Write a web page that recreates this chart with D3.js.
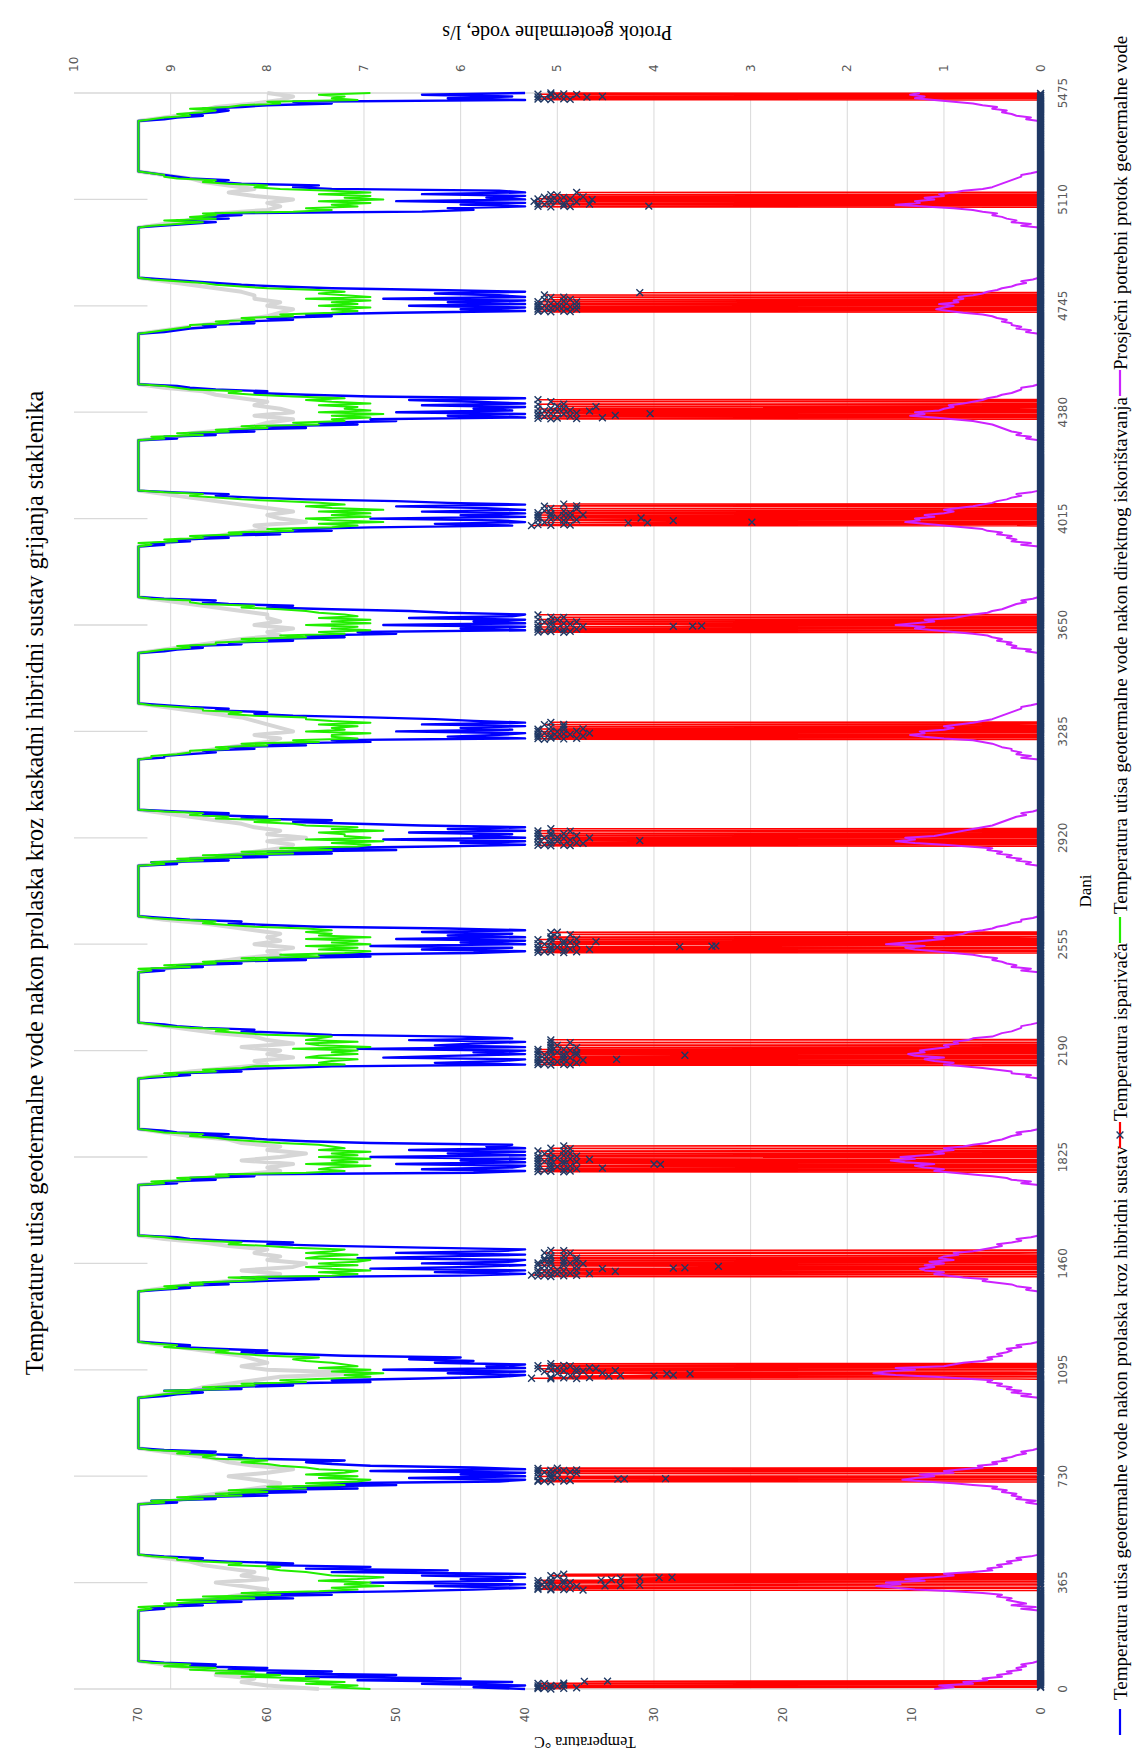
<!DOCTYPE html>
<html><head><meta charset="utf-8">
<script src="https://cdn.jsdelivr.net/npm/d3@7"></script>
<style>html,body{margin:0;padding:0;background:#fff;}svg{display:block}</style>
</head><body>
<svg id="c" width="1146" height="1758"></svg>
<script>
// ---------------- DATA ----------------
const dayTicks = [0,365,730,1095,1460,1825,2190,2555,2920,3285,3650,4015,4380,4745,5110,5475];
const tempTicks = [0,10,20,30,40,50,60,70];
const flowTicks = [0,1,2,3,4,5,6,7,8,9,10];
const winterCenters = dayTicks;  // heating seasons centred on each year boundary

// Blue: temperature after hybrid system, every 6 days (offsets -96..96; first season 0..96, last -96..0)
const blueWinters = [
 [40,44,40,48,41,53,45,57,50,60,55,63,60,66,64,68,70],
 [70,68,69,65,67,62,66,58,63,55,60,50,44,40,47,40,52,41,45,40,48,40,55,46,57,52,60,58,63,66,65,68,70],
 [70,67,69,64,66,60,63,57,62,53,58,50,55,42,40,49,40,45,40,52,40,44,52,55,57,54,61,63,62,66,64,68,70],
 [70,68,67,65,68,62,64,58,61,52,55,48,42,40,46,40,51,40,43,40,47,44,49,45,54,58,62,60,64,67,66,68,70],
 [70,68,66,67,63,65,60,56,62,45,40,47,40,52,44,40,48,41,40,53,46,40,50,42,40,48,55,60,58,63,66,67,70],
 [70,67,68,64,66,61,63,44,40,48,41,40,50,40,45,40,52,40,46,40,49,40,43,41,52,57,60,62,65,63,67,68,70],
 [70,68,66,67,62,64,59,55,40,47,42,40,51,46,40,44,40,53,40,47,44,40,49,41,45,55,58,62,61,65,67,68,70],
 [70,68,69,65,67,62,64,57,60,52,56,44,40,48,41,52,40,45,40,50,40,46,41,48,40,46,56,60,63,62,66,68,70],
 [70,67,69,63,66,60,64,55,60,50,57,47,40,45,40,51,40,44,41,49,40,46,40,48,53,58,55,62,60,65,63,67,70],
 [70,68,68,66,64,65,61,63,57,60,52,55,40,46,42,40,50,41,45,40,48,40,44,47,52,58,61,60,64,63,66,68,70],
 [70,68,67,65,66,62,63,58,60,54,57,50,53,40,45,40,51,40,44,40,49,41,40,46,49,55,60,58,63,65,64,68,70],
 [70,68,69,66,67,63,65,59,62,55,58,52,41,47,40,42,52,40,45,40,48,40,43,50,40,46,50,57,61,64,63,67,70],
 [70,67,68,64,66,61,63,57,60,53,56,50,52,40,46,40,50,41,44,40,48,40,44,49,40,52,57,61,60,64,66,67,70],
 [70,68,67,66,64,65,61,62,58,60,55,57,50,40,45,40,49,40,46,40,51,40,42,47,40,47,55,59,62,64,66,68,70],
 [70,68,66,64,67,63,65,62,64,48,44,46,40,45,40,50,40,43,40,48,40,42,55,58,56,62,64,63,66,67,68,69,70],
 [70,68,67,65,66,64,63,65,62,60,55,58,40,46,41,48,40]
];
// Green: temperature after direct use, every 6 days
const greenWinters = [
 [52,55,53,57,54,59,56,62,59,64,61,66,64,68,66,69,70],
 [70,69,70,67,68,64,67,61,65,59,62,56,53,55,51,54,52,56,53,51,55,56,57,59,60,59,63,62,65,67,67,69,70],
 [70,68,69,65,67,62,64,60,63,57,60,54,57,53,52,56,53,57,54,53,56,57,59,60,62,60,64,65,64,67,66,69,70],
 [70,69,68,66,68,63,65,61,62,57,59,55,52,54,51,55,52,56,53,54,55,57,58,56,60,62,64,63,66,68,67,69,70],
 [70,69,67,68,65,66,62,60,63,55,53,56,52,55,57,53,56,53,52,57,56,53,57,55,54,58,60,63,62,65,67,68,70],
 [70,68,69,66,67,63,64,57,54,56,55,52,57,53,55,52,56,53,55,52,56,54,55,56,59,61,63,64,66,65,68,69,70],
 [70,69,67,68,64,65,62,61,54,56,55,53,57,56,53,55,53,58,52,56,57,53,57,56,55,60,62,64,63,66,68,69,70],
 [70,69,70,66,68,64,65,60,62,56,59,54,52,56,53,57,52,55,53,57,52,56,55,57,55,57,61,63,65,64,67,69,70],
 [70,68,69,65,67,62,65,58,62,55,59,53,52,55,51,57,52,54,54,56,51,55,53,57,58,61,59,64,63,66,65,68,70],
 [70,69,69,67,66,66,63,64,60,62,56,58,53,55,55,52,57,54,55,53,56,52,55,57,57,61,63,62,65,65,67,69,70],
 [70,69,68,66,67,64,64,60,62,57,59,54,56,52,55,53,57,52,55,52,56,53,54,56,57,59,62,61,65,66,66,69,70],
 [70,69,70,67,68,65,66,62,63,58,60,55,53,56,51,55,57,52,55,52,56,51,55,57,54,56,59,62,64,66,65,68,70],
 [70,68,69,65,67,63,64,60,62,56,58,54,55,52,55,51,56,52,54,53,56,52,55,57,54,58,61,63,62,66,67,68,70],
 [70,69,68,67,66,66,63,64,61,62,58,59,55,53,55,52,56,53,55,52,57,52,54,56,54,56,60,62,64,65,67,69,70],
 [70,69,67,65,68,64,66,64,65,58,55,57,53,55,52,56,51,54,52,56,52,55,59,61,60,63,65,64,67,68,68,69,70],
 [70,69,68,66,67,65,64,66,63,62,59,60,53,55,54,56,52]
];
// Grey (unlabelled) series, every 12 days
const grayWinters = [
 [56,60,62,61,64,63,66,68,70],
 [70,68,66,64,63,61,60,62,64,60,62,61,63,65,66,68,70],
 [70,67,66,64,62,60,59,61,63,60,58,61,63,64,66,68,70],
 [70,68,66,65,63,61,59,52,60,62,60,61,62,64,66,68,70],
 [70,68,66,63,61,59,62,58,57,60,59,61,60,63,65,68,70],
 [70,67,65,62,59,60,58,62,59,57,60,59,62,63,66,68,70],
 [70,68,66,63,60,61,58,60,59,62,58,60,61,64,66,68,70],
 [70,68,66,64,62,59,60,58,61,59,60,59,61,63,65,68,70],
 [70,67,66,63,61,59,58,60,57,60,59,61,62,64,66,68,70],
 [70,68,66,64,62,60,59,61,58,59,60,61,62,64,66,68,70],
 [70,68,66,64,62,59,60,58,61,59,60,60,62,64,66,68,70],
 [70,68,66,64,62,60,61,57,59,60,58,60,62,64,66,68,70],
 [70,67,66,63,61,60,58,61,58,59,61,60,62,64,65,68,70],
 [70,68,66,64,62,60,59,58,60,59,61,61,62,64,66,68,70],
 [70,68,66,65,64,60,59,60,58,61,63,61,63,65,66,68,70],
 [70,68,66,65,64,61,59,58,60]
];
// Magenta: average required geothermal flow (l/s), every 6 days
const flowWinters = [
 [1.1,0.9,1.05,0.7,0.8,0.55,0.6,0.4,0.45,0.3,0.35,0.2,0.25,0.15,0.2,0.08,0.02],
 [0.02,0.2,0.05,0.3,0.15,0.25,0.35,0.3,0.45,0.4,0.6,0.9,1.3,1.5,1.7,1.45,1.6,1.2,1.4,1.1,0.9,1.0,0.7,0.5,0.55,0.4,0.45,0.3,0.35,0.2,0.25,0.1,0.02],
 [0.02,0.15,0.05,0.25,0.2,0.3,0.25,0.4,0.35,0.5,0.45,0.7,0.9,1.2,1.43,1.3,1.1,1.25,0.9,1.0,0.8,0.6,0.65,0.45,0.5,0.35,0.4,0.3,0.25,0.15,0.2,0.08,0.02],
 [0.02,0.2,0.1,0.3,0.2,0.35,0.3,0.45,0.4,0.55,0.5,0.8,1.1,1.5,1.73,1.6,1.3,1.5,1.0,0.9,0.8,0.6,0.5,0.55,0.4,0.45,0.35,0.3,0.35,0.2,0.25,0.1,0.02],
 [0.02,0.15,0.1,0.25,0.3,0.45,0.6,0.55,0.8,0.95,1.1,1.0,1.2,1.25,1.1,1.2,1.0,1.15,0.9,1.05,1.0,0.85,0.9,0.7,0.6,0.5,0.4,0.45,0.3,0.2,0.25,0.1,0.02],
 [0.02,0.2,0.1,0.3,0.35,0.5,0.7,0.9,1.1,1.0,1.2,1.3,1.1,1.4,1.55,1.3,1.45,1.2,1.0,1.1,0.9,1.0,0.8,0.7,0.55,0.5,0.4,0.35,0.3,0.2,0.25,0.1,0.02],
 [0.02,0.15,0.1,0.3,0.3,0.45,0.6,0.8,1.0,0.9,1.1,1.2,1.0,1.3,1.37,1.2,1.25,1.1,0.95,1.0,0.85,0.9,0.75,0.7,0.5,0.45,0.4,0.3,0.25,0.2,0.2,0.1,0.02],
 [0.02,0.2,0.1,0.3,0.25,0.35,0.4,0.5,0.45,0.6,0.7,0.9,1.1,1.3,1.4,1.2,1.6,1.4,1.2,1.0,1.1,0.9,0.8,0.75,0.6,0.5,0.45,0.35,0.3,0.2,0.2,0.08,0.02],
 [0.02,0.15,0.1,0.25,0.2,0.35,0.3,0.45,0.4,0.55,0.5,0.75,1.0,1.3,1.5,1.3,1.4,1.1,1.0,0.9,0.8,0.7,0.6,0.5,0.45,0.4,0.35,0.3,0.25,0.15,0.2,0.08,0.02],
 [0.02,0.2,0.1,0.25,0.2,0.3,0.3,0.4,0.45,0.5,0.6,0.7,1.0,1.2,1.35,1.2,1.25,1.0,0.9,1.0,0.85,0.7,0.6,0.5,0.45,0.4,0.35,0.3,0.25,0.2,0.2,0.1,0.02],
 [0.02,0.15,0.1,0.3,0.25,0.35,0.3,0.45,0.4,0.5,0.55,0.7,0.9,1.1,1.3,1.2,1.5,1.3,1.1,1.2,0.9,0.8,0.7,0.55,0.5,0.4,0.35,0.3,0.25,0.15,0.2,0.08,0.02],
 [0.02,0.2,0.1,0.3,0.25,0.35,0.3,0.45,0.4,0.55,0.6,0.8,1.0,1.2,1.4,1.25,1.3,1.1,1.2,1.0,0.9,1.0,0.85,0.7,0.6,0.5,0.45,0.35,0.3,0.2,0.25,0.1,0.02],
 [0.02,0.15,0.1,0.25,0.2,0.3,0.35,0.4,0.45,0.5,0.6,0.7,0.9,1.1,1.35,1.2,1.3,1.05,1.0,0.9,0.95,0.8,0.7,0.6,0.55,0.45,0.4,0.3,0.25,0.2,0.2,0.08,0.02],
 [0.02,0.15,0.1,0.25,0.2,0.3,0.3,0.4,0.35,0.45,0.5,0.6,0.8,0.95,1.08,1.0,0.9,1.05,0.85,0.9,0.8,0.85,0.7,0.6,0.55,0.45,0.4,0.3,0.25,0.15,0.2,0.08,0.02],
 [0.02,0.2,0.1,0.3,0.25,0.35,0.4,0.5,0.45,0.6,0.7,0.9,1.2,1.5,1.25,1.3,1.1,1.2,1.0,1.05,0.9,0.8,0.6,0.5,0.45,0.4,0.35,0.3,0.25,0.2,0.2,0.1,0.02],
 [0.02,0.15,0.1,0.25,0.3,0.4,0.35,0.5,0.45,0.6,0.7,0.9,1.1,1.3,1.2,1.35,1.25]
];
// Red: evaporator temperature, runs of operating days [first day offset, [°C per day]]; 0 on all other days
const evapWinters = [
 [[0,[38,39,37,38.5,36,39]],[9,[38,37.5,39,38,37]],[18,[38.5,39,37]],[26,[35.4,33.6]]],
 [[-26,[35.5,38,37,39,38,36.5,39]],[-15,[37.5,38.5,36,39,33.8,32.6,31.1]],[-4,[38,37,39,38,36.5,38.5]],[6,[37,39,38,34.1,33.3]],[15,[32.6,31.1,29.6,28.6]],[23,[37.5,38]],[29,[37]]],
 [[-19,[38,39,37,38.5,36.5,39]],[-10,[32.8,32.3,29.1,38,37.5]],[-1,[39,38]],[9,[38,36,39,37.5,38.5,36.5]],[19,[39,37,38,36]],[27,[39,37.5]]],
 [[-31,[38,36,39.5,37,35,38]],[-22,[33.5,36.5,32.6,30,28.5]],[-14,[27.2,29,37.5,34]],[-7,[36,38.5,35.5,37,33,38]],[3,[36,39,34.5,37.5,35]],[12,[38,36.5,39,37]],[21,[38]]],
 [[-45,[38,39,37,38.5,36,39.5]],[-36,[37.5,35,38,36.5,39]],[-27,[33,37,38.5,36,39,37.5]],[-18,[34,38,28.5,27.6]],[-10,[25,36,38.5,37,39]],[-1,[35.5,38,36.5,39,37]],[8,[38,36,38.5,37]],[17,[38.5,36,38]],[26,[37,38]],[35,[36.5,38.5]],[44,[37,38]]],
 [[-51,[37,39,38,36.5,38.5]],[-42,[37,39,36,38,34]],[-33,[37.5,39,36.5,38]],[-25,[29.5,30,37,39,38]],[-16,[36,38.5,37,39]],[-8,[35,38,36.5,39,37.5,38]],[3,[36,39,37]],[11,[38.5,36.5,38]],[20,[37,39]],[29,[36.5,38]],[38,[37]]],
 [[-50,[38,36.5,39,37,38.5]],[-41,[36,39,37.5,38]],[-33,[35.5,39,37,32.9,38.5]],[-24,[36.5,39,37,38]],[-16,[27.6,36,38.5,37,39]],[-7,[36,38,37.5,39]],[1,[36.5,38,37,39]],[10,[36,38]],[18,[37.5,38]],[27,[36.5,38]],[37,[38]]],
 [[-29,[37,39,38,36,38.5]],[-20,[37,39,35,38,36.5]],[-11,[39,37.5,38,28,25.5,25.2]],[-1,[36,38.5,37,39]],[7,[36.5,38,34.5,37]],[16,[39,36,38]],[24,[37.5,38]],[33,[36.5]],[40,[38,37.5]]],
 [[-28,[38,36.5,39,37,38.5]],[-19,[35.5,38,36,39]],[-11,[37.5,31.1,38,36.5]],[-3,[39,37,38.5,35,37.5]],[6,[39,36,38]],[14,[37,39,38]],[23,[36.5,39]],[31,[38]]],
 [[-27,[38.5,37,39,36,38]],[-18,[37.5,39,35.5,38]],[-10,[36.5,39,37,38.5,35]],[-1,[37.5,39,36,38]],[7,[37,39,35.5]],[15,[38,37]],[23,[38.5,37]],[31,[38]]],
 [[-25,[37,39,38,36.5,38.5]],[-16,[37,39,36,38,37.5]],[-7,[39,35.5,28.5,27,26.3]],[2,[38,36.5,39,37]],[10,[38.5,36,38]],[18,[37.5,39]],[26,[37,38]],[35,[39]]],
 [[-24,[39.5,38,36.5,39,37]],[-15,[32,30.5,38.5,22.4]],[-7,[28.5,37,39,36,38]],[2,[31,37.5,39,36.5]],[10,[38,37,39,35.5]],[18,[38,36.5,39]],[26,[37,38.5]],[34,[36,38]],[43,[38.5,36]],[50,[37]]],
 [[-23,[38,36,39,37.5,34]],[-14,[38.5,36.5,39,33]],[-6,[37,30.3,38,36,39]],[3,[37.5,35,38.5,36.5]],[11,[39,37,38]],[19,[34.5,37.5]],[27,[39,37]],[36,[38]],[43,[39]]],
 [[-21,[38,36.5,39,37,38.5]],[-12,[36,39,37.5,38]],[-4,[36.5,39,37,38.5,36]],[5,[39,37.5,38]],[13,[36,39,37]],[21,[38.5,36.5]],[29,[38,37]],[37,[38.5]],[45,[31.1]]],
 [[-26,[38,36.5,39,30.4,37]],[-17,[38.5,35,39,37]],[-9,[38,36,39.3,37.5]],[-1,[34.8,38,36.5,39]],[7,[37,38.5,35.5]],[15,[37.5,38]],[24,[36]]],
 [[-23,[38,36.5,39,37,38.5]],[-14,[35.2,39,34,37.5]],[-6,[38,36,39,37]],[0,[38]]]
];
const lastDay = 5475;

const titleText = "Temperature utisa geotermalne vode nakon prolaska kroz kaskadni hibridni sustav grijanja staklenika";
const legendLabels = [
 "Temperatura utisa geotermalne vode nakon prolaska kroz hibridni sustav",
 "Temperatura isparivača",
 "Temperatura utisa geotermalne vode nakon direktnog iskorištavanja",
 "Prosječni potrebni protok geotermalne vode"
];

// ---------------- BUILD ----------------
function buildSeries(winters, step) {
  const pts = [];
  winters.forEach((vals, k) => {
    const start = k === 0 ? 0 : -96;
    vals.forEach((v, i) => pts.push([winterCenters[k] + start + i * step, v]));
  });
  return pts;
}
const blue = buildSeries(blueWinters, 6);
const green = buildSeries(greenWinters, 6);
const gray = buildSeries(grayWinters, 12);
const flow = buildSeries(flowWinters, 6);
const evap = d3.range(0, lastDay + 1).map(d => [d, 0]);
evapWinters.forEach((runs, k) => runs.forEach(([o, vals]) => {
  vals.forEach((v, i) => {
    const d = winterCenters[k] + o + i;
    if (d >= 0 && d <= lastDay) evap[d][1] = v;
  });
}));

const svg = d3.select("#c");
// chart is drawn in its own orientation, then turned a quarter to the left
const g = svg.append("g").attr("transform", "translate(0,1758) rotate(-90)");

const x = d3.scaleLinear().domain([0, lastDay]).range([69, 1665]);
const yT = d3.scaleLinear().domain([0, 75]).range([1040.6, 74]);
const yF = d3.scaleLinear().domain([0, 10]).range([1040.6, 74]);

const GRID = "#d9d9d9";
g.append("g").selectAll("line").data(flowTicks.filter(t => t > 0 && t < 10)).join("line")
  .attr("x1", x(0)).attr("x2", x(lastDay)).attr("y1", d => yF(d)).attr("y2", d => yF(d))
  .attr("stroke", GRID).attr("stroke-width", 1);
g.append("g").selectAll("line").data([0, lastDay]).join("line")
  .attr("x1", d => x(d)).attr("x2", d => x(d)).attr("y1", yT(0)).attr("y2", yT(75))
  .attr("stroke", GRID).attr("stroke-width", 1.3);
g.append("g").selectAll("line").data(dayTicks.filter(d => d > 0 && d < lastDay)).join("line")
  .attr("x1", d => x(d)).attr("x2", d => x(d)).attr("y1", yT(75)).attr("y2", yT(69.3))
  .attr("stroke", GRID).attr("stroke-width", 1.3);

const lineT = d3.line().x(d => x(d[0])).y(d => yT(d[1]));
const lineF = d3.line().x(d => x(d[0])).y(d => yF(d[1]));

g.append("path").datum(gray).attr("d", lineT).attr("fill", "none").attr("stroke", "#d6d6d6").attr("stroke-width", 4).attr("stroke-linejoin", "round");
g.append("path").datum(blue).attr("d", lineT).attr("fill", "none").attr("stroke", "#0000ff").attr("stroke-width", 2.4).attr("stroke-linejoin", "round");
g.append("path").datum(green).attr("d", lineT).attr("fill", "none").attr("stroke", "#22ee00").attr("stroke-width", 2).attr("stroke-linejoin", "round");
g.append("path").datum(evap).attr("d", lineT).attr("fill", "none").attr("stroke", "#ff0000").attr("stroke-width", 1.5);
g.append("path").datum(flow).attr("d", lineF).attr("fill", "none").attr("stroke", "#cc22ff").attr("stroke-width", 2).attr("stroke-linejoin", "round");

// x markers of the evaporator series
const ms = 3.4;
let md = "";
evap.forEach(([d, v]) => {
  const cx = x(d), cy = yT(v);
  md += `M${cx - ms},${cy - ms}L${cx + ms},${cy + ms}M${cx - ms},${cy + ms}L${cx + ms},${cy - ms}`;
});
g.append("path").attr("d", md).attr("fill", "none").attr("stroke", "#1f3864").attr("stroke-width", 1.4);

// ---------------- TEXT ----------------
const SANS = "'DejaVu Sans', 'Liberation Sans', sans-serif";
const SERIF = "'Liberation Serif', 'Times New Roman', serif";
const TICKC = "#595959";

g.append("g").selectAll("text").data(dayTicks).join("text")
  .attr("x", d => x(d)).attr("y", 1063).attr("text-anchor", "middle").attr("dominant-baseline", "central")
  .attr("font-family", SANS).attr("font-size", 12).attr("fill", TICKC).text(d => d);
g.append("g").selectAll("text").data(tempTicks).join("text")
  .attr("x", 51).attr("y", d => yT(d)).attr("text-anchor", "end").attr("dominant-baseline", "central")
  .attr("font-family", SANS).attr("font-size", 12).attr("fill", TICKC).text(d => d);
g.append("g").selectAll("text").data(flowTicks).join("text")
  .attr("x", 1686).attr("y", d => yF(d)).attr("text-anchor", "start").attr("dominant-baseline", "central")
  .attr("font-family", SANS).attr("font-size", 12).attr("fill", TICKC).text(d => d);

g.append("text").attr("transform", "translate(16,585) rotate(-90)")
  .attr("text-anchor", "middle").attr("dominant-baseline", "central")
  .attr("font-family", SERIF).attr("font-size", 16).attr("fill", "#000").text("Temperatura °C");
g.append("text").attr("transform", `translate(1725,${(yF(0) + yF(10)) / 2}) rotate(-90)`)
  .attr("text-anchor", "middle").attr("dominant-baseline", "central")
  .attr("font-family", SERIF).attr("font-size", 20).attr("fill", "#000").text("Protok geotermalne vode, l/s");
g.append("text").attr("x", (x(0) + x(lastDay)) / 2).attr("y", 1085)
  .attr("text-anchor", "middle").attr("dominant-baseline", "central")
  .attr("font-family", SERIF).attr("font-size", 17).attr("fill", "#000").text("Dani");

const title = g.append("text").attr("x", 875).attr("y", 34)
  .attr("text-anchor", "middle").attr("dominant-baseline", "central")
  .attr("font-family", SERIF).attr("font-size", 22).attr("fill", "#000").text(titleText);
const tl = title.node().getComputedTextLength();
title.attr("font-size", 22 * 985 / tl);

// legend
const legColors = ["#0000ff", "#ff0000", "#22ee00", "#cc22ff"];
const legMarkStart = [23, 610, 815, 1362];
const legTextStart = [58, 637, 844, 1388];
const legTextWidth = [545, 174, 516, 350];
const legY = 1120;
const lg = g.append("g");
const texts = legendLabels.map((t, i) => lg.append("text").attr("x", legTextStart[i]).attr("y", legY)
  .attr("dominant-baseline", "central").attr("font-family", SERIF).attr("font-size", 16).attr("fill", "#000").text(t));
const measured = d3.sum(texts, t => t.node().getComputedTextLength());
const fs = 16 * d3.sum(legTextWidth) / measured;
texts.forEach(t => t.attr("font-size", fs));
legendLabels.forEach((t, i) => {
  lg.append("line").attr("x1", legMarkStart[i]).attr("x2", legMarkStart[i] + 26).attr("y1", legY).attr("y2", legY)
    .attr("stroke", legColors[i]).attr("stroke-width", 2.2);
});
const mx = legMarkStart[1] + 13;
lg.append("path").attr("d", `M${mx - ms},${legY - ms}L${mx + ms},${legY + ms}M${mx - ms},${legY + ms}L${mx + ms},${legY - ms}`)
  .attr("stroke", "#1f3864").attr("stroke-width", 1.4);
</script>
</body></html>
